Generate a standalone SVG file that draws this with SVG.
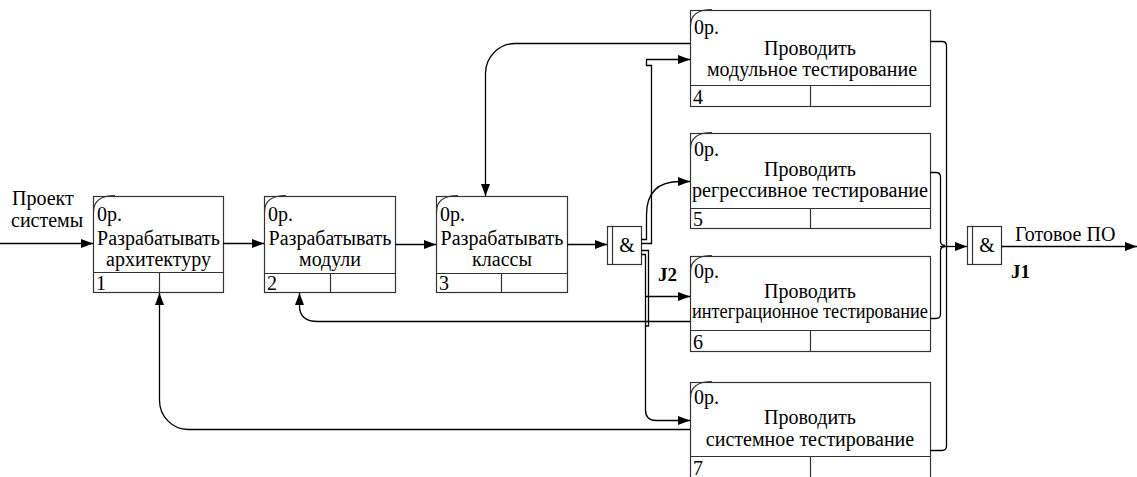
<svg xmlns="http://www.w3.org/2000/svg" width="1137" height="477" viewBox="0 0 1137 477">
<style>
.box{fill:#fff;stroke:#333;stroke-width:1.2}
.ln{fill:none;stroke:#333;stroke-width:1.2}
.t{font-family:"Liberation Serif","Times New Roman","DejaVu Serif",serif;font-size:20px;fill:#000}
.c{text-anchor:middle}
.b{font-weight:bold;font-size:19px}
.con{fill:none;stroke:#000;stroke-width:1.3}
.arr{marker-end:url(#ah)}
</style>
<defs>
<marker id="ah" markerUnits="userSpaceOnUse" markerWidth="13" markerHeight="10" refX="12" refY="4.5" orient="auto">
<path d="M0,0 L12,4.5 L0,9 z" fill="#000"/>
</marker>
</defs>
<rect width="1137" height="477" fill="#fff"/>

<g id="box1">
<rect class="box" x="93.5" y="196.5" width="130" height="96"/>
<path class="ln" d="M93.5,272.5 H223.5 M159.5,272.5 V292.5"/>
<path class="ln" d="M93.5,212 Q93.5,195.5 115,195.5"/>
<text class="t" x="97" y="221">0р.</text>
<text class="t c" x="158.5" y="245">Разрабатывать</text>
<text class="t c" x="158.5" y="266">архитектуру</text>
<text class="t" x="96" y="290">1</text>
</g>

<g id="box2">
<rect class="box" x="264.5" y="196.5" width="131" height="96"/>
<path class="ln" d="M264.5,273.5 H395.5 M330.5,273.5 V292.5"/>
<path class="ln" d="M264.5,212 Q264.5,195.5 286,195.5"/>
<text class="t" x="268" y="221">0р.</text>
<text class="t c" x="330" y="245">Разрабатывать</text>
<text class="t c" x="330" y="266">модули</text>
<text class="t" x="267" y="290">2</text>
</g>

<g id="box3">
<rect class="box" x="436.5" y="196.5" width="131" height="96"/>
<path class="ln" d="M436.5,273.5 H567.5 M501.5,273.5 V292.5"/>
<path class="ln" d="M436.5,212 Q436.5,195.5 458,195.5"/>
<text class="t" x="440" y="221">0р.</text>
<text class="t c" x="502" y="245">Разрабатывать</text>
<text class="t c" x="502" y="266">классы</text>
<text class="t" x="439" y="290">3</text>
</g>

<g id="box4">
<rect class="box" x="690.5" y="10.5" width="240" height="96"/>
<path class="ln" d="M690.5,85.5 H930.5 M810.5,85.5 V106.5"/>
<path class="ln" d="M690.5,26 Q690.5,9.5 712,9.5"/>
<text class="t" x="694" y="34">0р.</text>
<text class="t c" x="810" y="55">Проводить</text>
<text class="t c" x="812" y="76">модульное тестирование</text>
<text class="t" x="693" y="104">4</text>
</g>

<g id="box5">
<rect class="box" x="690.5" y="133.5" width="240" height="95"/>
<path class="ln" d="M690.5,208.5 H930.5 M810.5,208.5 V228.5"/>
<path class="ln" d="M690.5,149 Q690.5,132.5 712,132.5"/>
<text class="t" x="694" y="156">0р.</text>
<text class="t c" x="810" y="176">Проводить</text>
<text class="t c" x="810" y="197" textLength="236" lengthAdjust="spacingAndGlyphs">регрессивное тестирование</text>
<text class="t" x="693" y="226">5</text>
</g>

<g id="box6">
<rect class="box" x="690.5" y="256.5" width="240" height="95"/>
<path class="ln" d="M690.5,330.5 H930.5 M810.5,330.5 V351.5"/>
<path class="ln" d="M690.5,272 Q690.5,255.5 712,255.5"/>
<text class="t" x="694" y="278">0р.</text>
<text class="t c" x="810" y="298">Проводить</text>
<text class="t c" x="810" y="318" textLength="236" lengthAdjust="spacingAndGlyphs">интеграционное тестирование</text>
<text class="t" x="693" y="349">6</text>
</g>

<g id="box7">
<rect class="box" x="690.5" y="382.5" width="240" height="97"/>
<path class="ln" d="M690.5,456.5 H930.5 M810.5,456.5 V479"/>
<path class="ln" d="M690.5,398 Q690.5,381.5 712,381.5"/>
<text class="t" x="694" y="404">0р.</text>
<text class="t c" x="810" y="424">Проводить</text>
<text class="t c" x="810" y="446">системное тестирование</text>
<text class="t" x="693" y="475">7</text>
</g>

<g id="J2">
<rect class="box" x="607.5" y="226.5" width="34" height="38"/>
<path class="ln" d="M612.5,226.5 V264.5"/>
<text class="t c" x="627" y="252">&amp;</text>
<text class="t b" x="658" y="281">J2</text>
</g>

<g id="J1">
<rect class="box" x="967.5" y="226.5" width="34" height="38"/>
<path class="ln" d="M972.5,226.5 V264.5"/>
<text class="t c" x="987" y="252">&amp;</text>
<text class="t b" x="1011" y="278">J1</text>
</g>

<g id="connectors">
<path class="con arr" d="M0,243.5 H93"/>
<text class="t" x="12" y="205">Проект</text>
<text class="t" x="11" y="227">системы</text>
<path class="con arr" d="M223,243.5 H264"/>
<path class="con arr" d="M395,244.5 H436"/>
<path class="con arr" d="M567,244.5 H607"/>
<path class="con arr" d="M690,43.5 H515 A30,30 0 0 0 485.5,73 V196"/>
<path class="con arr" d="M641,239.5 H646.5 V215 Q646.5,181.5 680,181.5 H690"/>
<path class="con arr" d="M641,243.5 H651.5 V65.5 H646.5 V59.5 H690"/>
<path class="con" d="M641,250.5 H648.5 V326 H645.5"/>
<path class="con arr" d="M645.5,296.5 H690"/>
<path class="con arr" d="M641,254.5 H645.5 V410 Q645.5,420.5 656,420.5 H690"/>
<path class="con arr" d="M690,321.5 H318 Q299.5,321.5 299.5,306 V293"/>
<path class="con arr" d="M690,429.5 H188 A29,29 0 0 1 159.5,400 V293"/>
<path class="con" d="M930,41.5 H942 Q946.5,41.5 946.5,46 V246.5"/>
<path class="con" d="M930,172.5 H936 Q940.5,172.5 940.5,177 V241 Q940.5,245.5 945,245.5"/>
<path class="con" d="M930,318.5 H936 Q940.5,318.5 940.5,314 V251 Q940.5,246.5 945,246.5"/>
<path class="con" d="M930,450.5 H942 Q946.5,450.5 946.5,446 V246.5"/>
<path class="con arr" d="M940,246.5 H967"/>
<path class="con arr" d="M1001,246.5 H1137"/>
<text class="t" x="1015" y="241">Готовое ПО</text>
</g>
</svg>
